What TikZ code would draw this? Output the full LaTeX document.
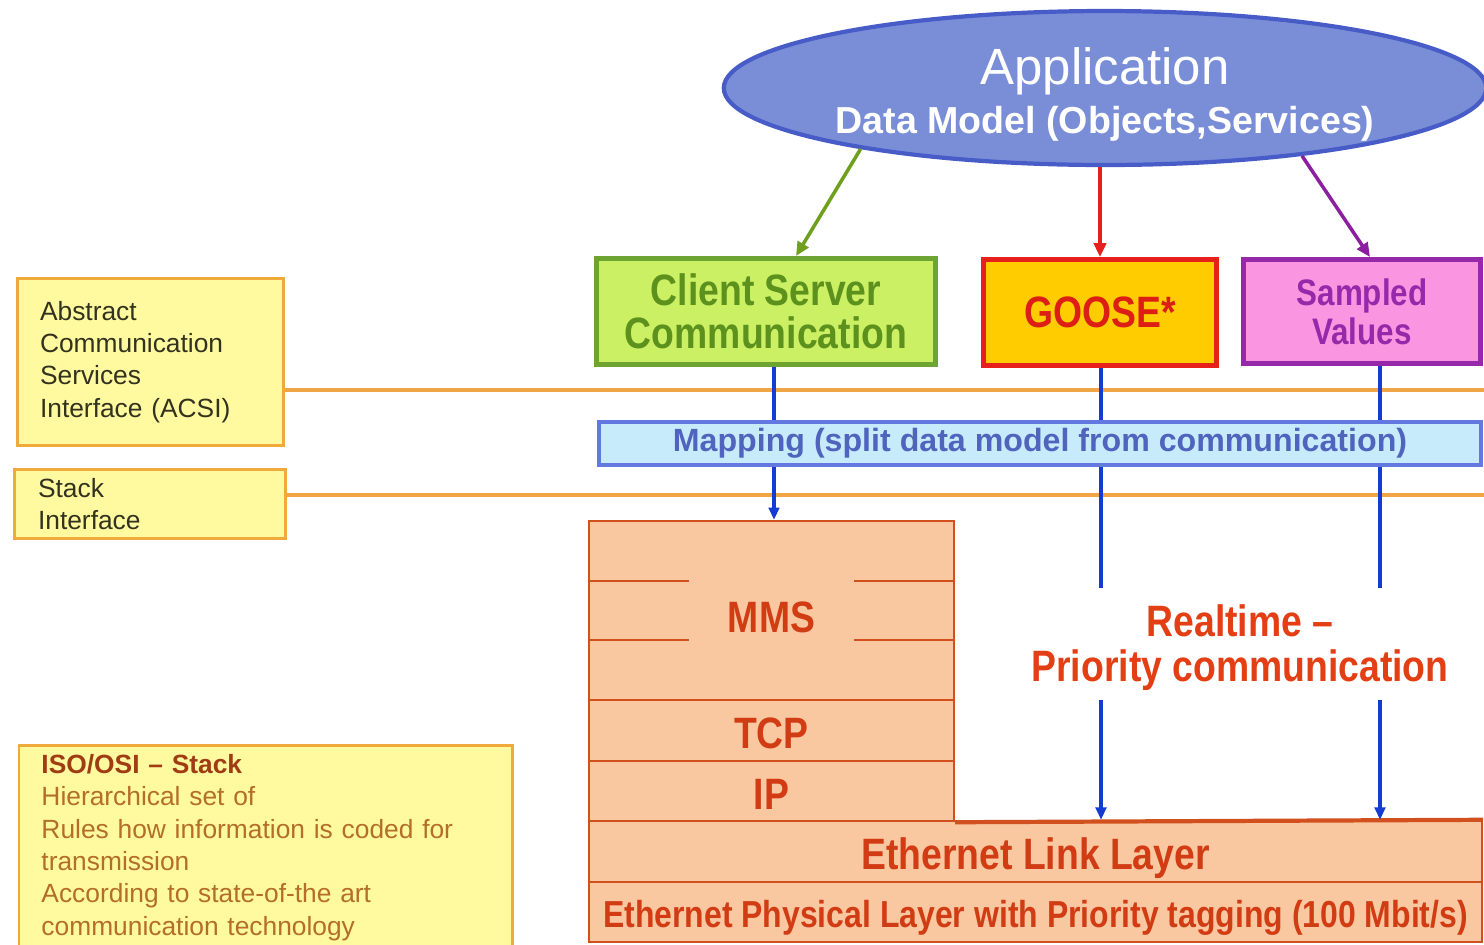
\documentclass[tikz,border=0pt]{standalone}
\usepackage{fontspec}
\setmainfont{Liberation Sans}
\newfontfamily\narrowfam[FakeStretch=0.85,Ligatures=TeX]{Liberation Sans}
\usetikzlibrary{shapes.geometric,arrows.meta,calc}
\definecolor{ellfill}{RGB}{122,142,216}
\definecolor{elldraw}{RGB}{72,92,200}
\definecolor{csfill}{RGB}{204,240,100}
\definecolor{csdraw}{RGB}{110,165,50}
\definecolor{cstext}{RGB}{92,145,30}
\definecolor{gofill}{RGB}{255,204,0}
\definecolor{godraw}{RGB}{232,32,28}
\definecolor{gotext}{RGB}{220,30,20}
\definecolor{svfill}{RGB}{250,150,225}
\definecolor{svdraw}{RGB}{150,40,170}
\definecolor{orline}{RGB}{240,165,70}
\definecolor{yfill}{RGB}{255,250,160}
\definecolor{ydraw}{RGB}{240,170,60}
\definecolor{ytext}{RGB}{50,50,30}
\definecolor{mapfill}{RGB}{200,235,252}
\definecolor{mapdraw}{RGB}{100,120,225}
\definecolor{maptext}{RGB}{80,100,190}
\definecolor{bline}{RGB}{20,60,210}
\definecolor{stfill}{RGB}{250,200,160}
\definecolor{stdraw}{RGB}{210,80,30}
\definecolor{sttext}{RGB}{210,60,20}
\definecolor{rttext}{RGB}{228,62,20}
\definecolor{isotitle}{RGB}{160,60,20}
\definecolor{isotext}{RGB}{180,110,40}
\definecolor{garrow}{RGB}{110,160,30}
\definecolor{rarrow}{RGB}{230,30,30}
\definecolor{parrow}{RGB}{140,30,160}
\begin{document}
\begin{tikzpicture}[x=0.02cm,y=-0.02cm,
  appell/.style={ellipse,draw=elldraw,fill=ellfill,line width=2.4pt,minimum width=15.12cm,minimum height=3.08cm,inner sep=0pt,text=white,font=\fontsize{21.4}{24}\selectfont},
  topbox/.style={rectangle,line width=2.8pt,inner sep=0pt,align=center,font=\narrowfam\fontsize{25}{24.4}\selectfont\bfseries},
  ybox/.style={rectangle,draw=ydraw,fill=yfill,line width=1.7pt,align=left,text=ytext,font=\fontsize{15}{18.4}\selectfont},
  stbox/.style={rectangle,draw=stdraw,fill=stfill,line width=1.4pt,inner sep=0pt,text=sttext,font=\narrowfam\fontsize{25}{24}\selectfont\bfseries,text height=20.5pt,text depth=0pt},
  orl/.style={draw=orline,line width=2.2pt},
  bl/.style={draw=bline,line width=2pt},
  blarrow/.style={bl,-{Triangle[length=7pt,width=6pt]}},
  topar/.style={line width=2pt,-{Triangle[length=8pt,width=7pt]}}
]
\useasboundingbox (0,0) rectangle (1484,944);
\clip (0,0) rectangle (1484,944);

% left boxes
\node[ybox,minimum width=5.32cm,minimum height=3.34cm,text width=4.42cm,inner xsep=0.45cm] (acsi) at (150.5,362) {Abstract\\Communication\\Services\\Interface (ACSI)};
\node[ybox,minimum width=5.42cm,minimum height=1.38cm,text width=4.48cm,inner xsep=0.47cm,inner ysep=0pt] (stack) at (150,504) {Stack\\Interface};
\node[ybox,anchor=north west,minimum width=9.88cm,minimum height=4.1cm,text width=8.98cm,inner xsep=0.45cm] (iso) at (17.5,743.5) {{\bfseries\color{isotitle}ISO/OSI – Stack}\\\color{isotext}Hierarchical set of\\\color{isotext}Rules how information is coded for\\\color{isotext}transmission\\\color{isotext}According to state-of-the art\\\color{isotext}communication technology};

% orange interface lines
\coordinate (o1) at (1484,390);
\coordinate (o2) at (1484,495);
\draw[orl] ($(acsi.east)+(0,28)$) -- (o1);
\draw[orl] ($(stack.east)+(0,-9)$) -- (o2);

% top boxes
\node[topbox,draw=csdraw,fill=csfill,text=cstext,minimum width=6.78cm,minimum height=2.12cm] (cs) at (766,311.5) {Client Server\\Communication};
\node[topbox,draw=godraw,fill=gofill,text=gotext,minimum width=4.66cm,minimum height=2.12cm] (goose) at (1100,312.5) {GOOSE*};
\node[topbox,draw=svdraw,fill=svfill,text=svdraw,minimum width=4.74cm,minimum height=2.08cm,font=\narrowfam\fontsize{21}{22}\selectfont\bfseries] (sv) at (1362,311.5) {Sampled\\Values};

% stack
\node[stbox,minimum width=7.3cm,minimum height=3.58cm,text height=25.3pt] (mms) at (771.5,610.5) {MMS};
\node[stbox,minimum width=7.3cm,minimum height=1.22cm] (tcp) at (771.5,730.5) {TCP};
\node[stbox,minimum width=7.3cm,minimum height=1.2cm] (ip) at (771.5,791) {IP};
\node[stbox,minimum width=17.86cm,minimum height=1.22cm] (eth) at (1035.5,851.5) {Ethernet Link Layer};
\node[stbox,minimum width=17.86cm,minimum height=1.2cm,text height=17.5pt,font=\narrowfam\fontsize{21.4}{22}\selectfont\bfseries] (phy) at (1035.5,912) {Ethernet Physical Layer with Priority tagging (100 Mbit/s)};
\draw[stdraw,line width=2.4pt] (ip.south east) -- (eth.north east);
\draw[stdraw,line width=0.9pt] ($(mms.north west)+(0,61)$) -- +(101,0);
\draw[stdraw,line width=0.9pt] ($(mms.north east)+(0,61)$) -- +(-101,0);
\draw[stdraw,line width=0.9pt] ($(mms.north west)+(0,120)$) -- +(101,0);
\draw[stdraw,line width=0.9pt] ($(mms.north east)+(0,120)$) -- +(-101,0);

% realtime label
\node[text=rttext,align=center,font=\narrowfam\fontsize{25}{25.5}\selectfont\bfseries] (rt) at (1240,648) {Realtime –\\Priority communication};

% blue lines
\coordinate (bx) at (774,0);
\coordinate (g1) at (1101,588);
\coordinate (g2) at (1101,700);
\coordinate (s1) at (1380,588);
\coordinate (s2) at (1380,700);
\draw[blarrow] (cs.south -| bx) -- (mms.north -| bx);
\draw[bl] (goose.south -| g1) -- (g1);
\draw[blarrow] (g2) -- (eth.north -| g2);
\draw[bl] (sv.south -| s1) -- (s1);
\draw[blarrow] (s2) -- (eth.north -| s2);

% mapping
\node[rectangle,draw=mapdraw,fill=mapfill,line width=2.2pt,minimum width=17.64cm,minimum height=0.86cm,inner sep=0pt,text=maptext,font=\fontsize{18.3}{22}\selectfont\bfseries] (map) at (1040,443.5) {Mapping (split data model from communication)};

% application
\node[appell] (app) at (1105,88) {\raisebox{-5.1pt}[\height][\depth]{\begin{tabular}{@{}c@{}}{\fontsize{29}{30}\selectfont Application}\\[3.8pt]{\bfseries Data Model (Objects,Services)}\end{tabular}}};
\draw[topar,garrow] (app.194) -- ($(cs.north)+(30,0)$);
\draw[topar,rarrow] (goose.north |- app.south) -- (goose.north);
\draw[topar,parrow] (app.341) -- ($(sv.north)+(8,0)$);
\end{tikzpicture}
\end{document}
